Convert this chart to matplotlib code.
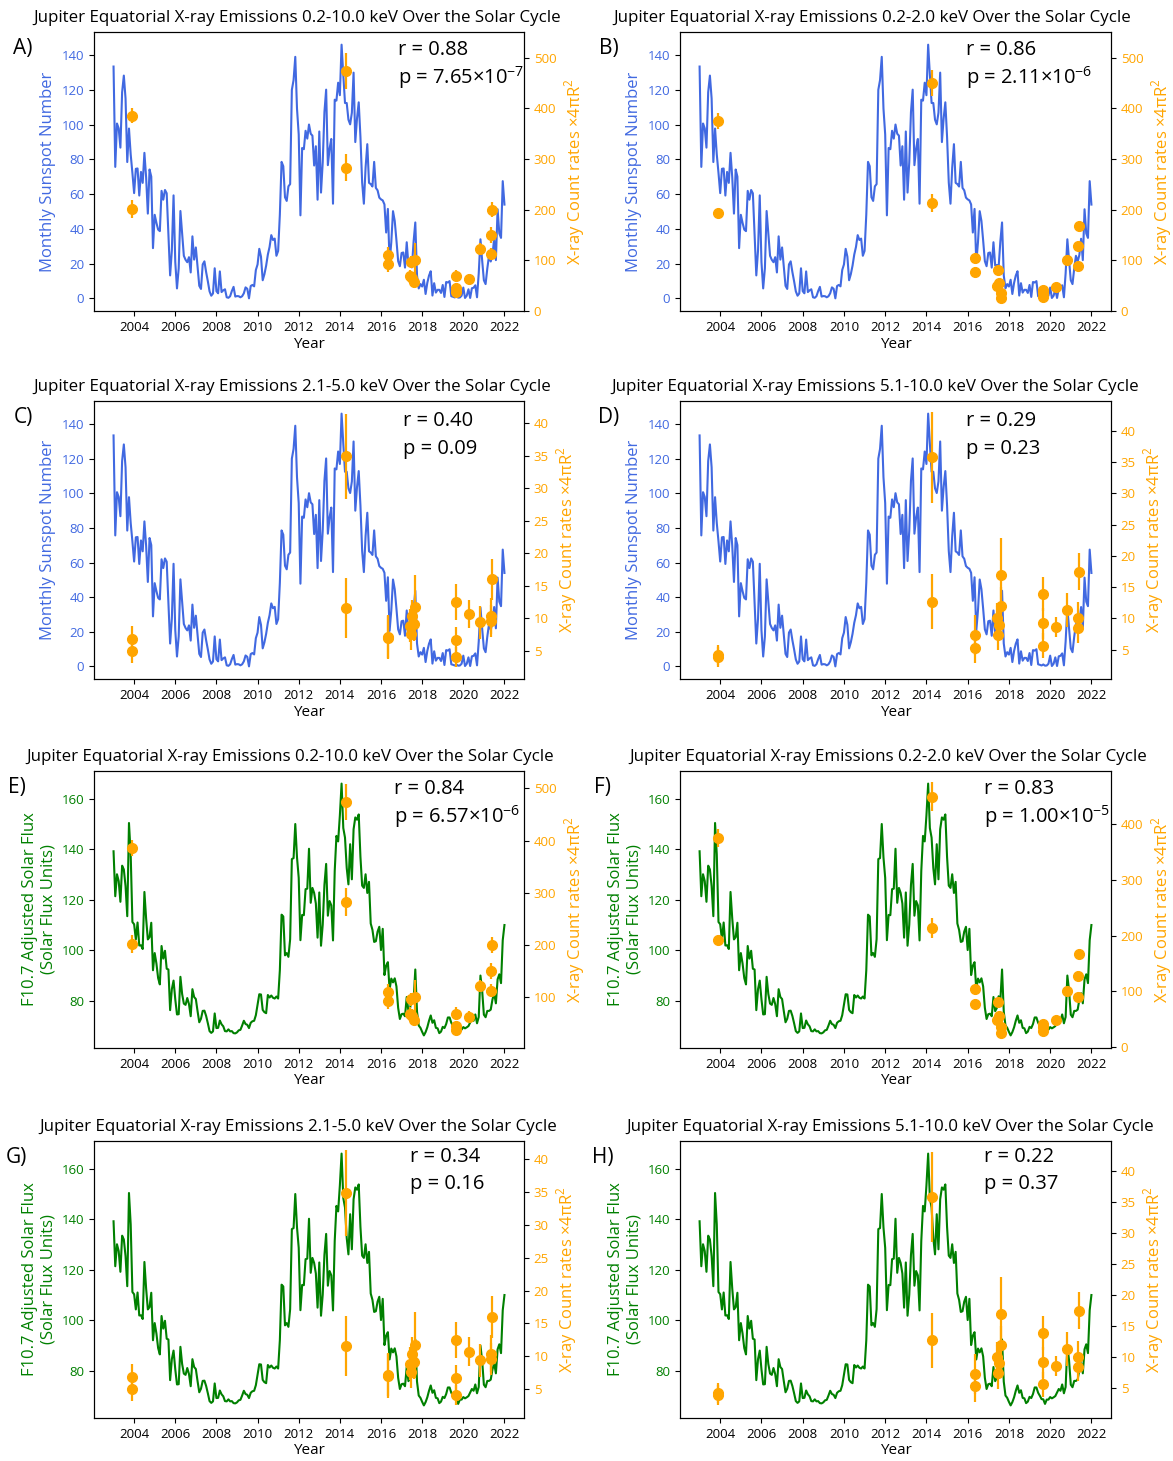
import numpy as np
import matplotlib
matplotlib.use('Agg')
import matplotlib.pyplot as plt

plt.rcParams['font.family'] = ['Open Sans', 'DejaVu Sans']
plt.rcParams['mathtext.fontset'] = 'custom'
plt.rcParams['mathtext.rm'] = 'Open Sans'

# monthly mean total sunspot number, Jan 2003 .. Jan 2022
ssn = [
    133.5, 75.7, 100.7, 97.9, 86.8, 118.7, 128.3, 115.1, 78.5, 97.8, 82.9, 72.2,
    60.6, 74.6, 74.8, 59.2, 72.8, 66.5, 83.8, 69.7, 48.8, 74.2, 70.1, 28.9,
    48.1, 43.5, 39.6, 38.7, 61.9, 56.8, 62.4, 60.5, 37.2, 13.2, 27.5, 59.3,
    20.9, 5.7, 17.3, 50.3, 37.2, 24.5, 22.2, 20.8, 23.7, 14.9, 35.7, 22.3,
    29.3, 18.4, 7.2, 5.4, 19.5, 21.3, 15.1, 9.8, 4.0, 1.5, 2.8, 17.3,
    4.1, 2.9, 15.5, 3.6, 4.6, 5.2, 0.6, 0.3, 1.2, 4.2, 6.6, 1.0,
    1.3, 1.2, 0.6, 1.2, 2.9, 6.3, 5.5, 0.0, 7.1, 7.7, 6.9, 16.3,
    19.5, 28.5, 24.0, 10.4, 13.9, 18.8, 25.2, 29.6, 36.4, 33.6, 34.4, 24.5,
    27.3, 48.3, 78.6, 76.1, 58.2, 56.1, 64.5, 65.8, 120.1, 125.7, 139.1, 109.3,
    94.4, 47.8, 86.6, 85.9, 96.5, 92.0, 100.1, 94.8, 93.7, 76.5, 87.6, 56.8,
    96.1, 60.9, 78.3, 107.3, 120.2, 76.7, 86.2, 91.8, 54.5, 114.4, 113.9, 124.2,
    117.0, 146.1, 128.7, 112.5, 112.5, 102.9, 100.2, 106.9, 130.0, 90.0, 103.6, 112.9,
    93.0, 66.7, 54.5, 75.3, 88.8, 66.5, 65.8, 64.4, 78.6, 63.6, 62.2, 58.0,
    57.0, 56.4, 54.1, 37.9, 51.5, 20.5, 32.4, 50.2, 44.6, 33.4, 21.4, 18.5,
    26.1, 26.4, 17.7, 32.3, 18.9, 19.2, 17.8, 32.6, 43.7, 13.2, 5.7, 8.2,
    6.8, 10.7, 2.5, 8.9, 13.1, 15.6, 1.6, 8.7, 3.3, 4.9, 4.9, 3.1,
    7.7, 0.8, 9.4, 9.1, 9.9, 1.2, 0.9, 0.5, 1.1, 0.4, 0.5, 1.5,
    6.2, 0.2, 1.5, 5.2, 0.2, 5.8, 6.1, 7.5, 0.6, 14.4, 34.0, 21.8,
    10.4, 8.2, 17.2, 24.5, 21.2, 25.0, 34.3, 22.0, 51.3, 37.4, 34.8, 67.5,
    54.0,
]

# F10.7 adjusted solar flux, monthly, same months
f107 = [
    139.2, 121.4, 130.1, 127.4, 119.2, 133.5, 132.0, 125.4, 113.5, 150.4, 138.0, 111.2,
    110.3, 104.3, 111.0, 101.9, 102.0, 100.5, 123.1, 112.6, 104.3, 105.2, 110.9, 92.1,
    98.9, 94.8, 89.0, 86.5, 101.7, 96.7, 99.8, 92.7, 92.4, 76.3, 84.6, 88.0,
    80.6, 74.6, 74.7, 89.5, 82.7, 78.9, 78.4, 81.1, 78.7, 73.9, 84.6, 81.5,
    80.7, 75.9, 71.5, 72.9, 76.0, 76.1, 74.0, 71.1, 68.0, 67.3, 67.9, 75.0,
    69.2, 69.3, 72.2, 70.7, 69.9, 68.0, 67.9, 68.7, 67.9, 68.0, 67.2, 67.1,
    67.5, 68.3, 68.5, 70.2, 72.1, 70.8, 70.5, 69.2, 71.3, 71.9, 72.1, 74.3,
    78.4, 82.6, 82.5, 76.4, 75.5, 75.1, 82.3, 81.3, 82.1, 81.2, 80.9, 81.7,
    80.9, 92.1, 114.1, 113.4, 98.0, 98.9, 97.4, 104.4, 136.1, 136.5, 150.0, 136.8,
    128.7, 104.0, 114.0, 113.9, 124.2, 124.4, 140.2, 118.8, 124.7, 122.7, 118.5, 105.0,
    122.9, 101.8, 110.1, 125.9, 134.2, 113.7, 119.5, 117.8, 103.9, 131.4, 145.3, 143.1,
    153.4, 166.0, 148.4, 144.6, 132.6, 126.1, 142.0, 128.1, 147.9, 152.6, 151.7, 153.8,
    137.0, 125.6, 124.7, 130.1, 122.7, 127.1, 110.6, 108.1, 103.3, 103.6, 107.4, 109.3,
    100.1, 108.5, 90.2, 93.9, 95.3, 84.5, 88.8, 87.3, 88.9, 85.7, 77.2, 72.8,
    74.7, 74.9, 73.9, 81.5, 75.9, 77.2, 81.8, 80.0, 92.4, 75.7, 70.2, 69.3,
    67.7, 66.3, 67.6, 69.5, 72.1, 74.2, 71.3, 72.3, 69.3, 69.1, 67.2, 67.8,
    69.7, 69.2, 70.8, 73.4, 73.4, 71.3, 70.1, 68.8, 68.7, 66.9, 68.6, 68.6,
    69.6, 69.1, 69.5, 70.0, 71.4, 72.8, 72.1, 74.6, 71.1, 73.6, 90.0, 84.0,
    74.5, 73.5, 76.0, 76.0, 76.5, 80.5, 83.0, 79.0, 88.5, 90.5, 87.0, 104.0,
    110.0,
]
months = 2003 + np.arange(len(ssn)) / 12.0

# X-ray observation epochs (decimal year)
obs_t = [2003.91, 2003.91, 2014.28, 2014.28, 2016.36, 2016.36,
         2017.41, 2017.46, 2017.5, 2017.6, 2017.64,
         2019.66, 2019.66, 2019.66, 2020.26, 2020.8,
         2021.33, 2021.36, 2021.39]

# count rates x 4piR^2 per band
x_02_10 = [386, 202, 474, 283, 111, 92, 69, 96, 65, 57, 101,
           69, 45, 37, 63, 122, 113, 150, 200]
e_02_10 = [15, 18, 35, 27, 15, 15, 12, 12, 12, 12, 33,
           12, 10, 10, 10, 12, 12, 15, 15]
x_02_20 = [375, 193, 450, 213, 104, 78, 49, 80, 55, 35, 25,
           41, 35, 28, 48, 101, 89, 128, 167]
e_02_20 = [16, 8, 26, 18, 8, 8, 6, 6, 6, 5, 5,
           5, 5, 5, 5, 6, 6, 8, 8]
x_21_50 = [6.9, 5.0, 34.9, 11.6, 7.2, 7.0, 8.9, 7.6, 10.4, 9.1, 11.7,
           12.5, 6.7, 4.1, 10.7, 9.4, 9.6, 10.4, 16.0]
e_21_50 = [2.0, 1.8, 6.5, 4.6, 3.3, 3.3, 2.5, 2.5, 2.5, 2.5, 5.0,
           2.8, 2.0, 1.5, 2.2, 2.5, 2.5, 2.8, 3.2]
x_51_10 = [4.2, 3.9, 35.8, 12.7, 7.3, 5.3, 10.0, 7.4, 9.0, 12.0, 16.9,
           13.9, 9.2, 5.6, 8.6, 11.3, 8.4, 10.1, 17.5]
e_51_10 = [1.6, 1.6, 7.3, 4.4, 3.2, 2.5, 2.5, 2.5, 2.5, 3.0, 6.0,
           2.7, 2.5, 2.0, 1.6, 2.7, 2.3, 2.5, 3.0]

bands = ['0.2-10.0', '0.2-2.0', '2.1-5.0', '5.1-10.0']
rates = [x_02_10, x_02_20, x_21_50, x_51_10]
errs = [e_02_10, e_02_20, e_21_50, e_51_10]
r_ssn = ['0.88', '0.86', '0.40', '0.29']
p_ssn = ['7.65×10$^{-7}$', '2.11×10$^{-6}$', '0.09', '0.23']
r_f107 = ['0.84', '0.83', '0.34', '0.22']
p_f107 = ['6.57×10$^{-6}$', '1.00×10$^{-5}$', '0.16', '0.37']
letters = ['A)', 'B)', 'C)', 'D)', 'E)', 'F)', 'G)', 'H)']

W, H = 1173, 1461
fig = plt.figure(figsize=(W / 100, H / 100), dpi=100)

cols = [(94, 524), (680, 1111)]
rows = [(32, 311), (401, 679), (771, 1048), (1141, 1418)]
rlims_ssn = [(0, 551), (0, 551), (0.7, 43.4), (0.3, 44.8)]
rlims_f = [(3, 533), (-2, 496), (0.6, 42.8), (0.2, 44.8)]
txt_x = [0.707, 0.664, 0.719, 0.664, 0.698, 0.705, 0.735, 0.705]
txt_y = [0.935, 0.935, 0.928, 0.928, 0.934, 0.934, 0.943, 0.943]
title_x = [0.472, 0.445, 0.462, 0.452, 0.455, 0.483, 0.474, 0.488]

for k in range(8):
    row, col = divmod(k, 2)
    band = k % 4
    (x0, x1), (y0, y1) = cols[col], rows[row]
    ax = fig.add_axes([x0 / W, 1 - y1 / H, (x1 - x0) / W, (y1 - y0) / H])
    if k < 4:
        ax.plot(months, ssn, color='royalblue', lw=1.5)
        ax.set_ylabel('Monthly Sunspot Number', color='royalblue', fontsize=12)
        ax.tick_params(axis='y', colors='royalblue')
        rl = rlims_ssn[band]
        rtxt, ptxt = r_ssn[band], p_ssn[band]
    else:
        ax.plot(months, f107, color='green', lw=1.5)
        ax.set_ylabel('F10.7 Adjusted Solar Flux\n(Solar Flux Units)', color='green',
                      fontsize=12, linespacing=1.15)
        ax.tick_params(axis='y', colors='green')
        rl = rlims_f[band]
        rtxt, ptxt = r_f107[band], p_f107[band]
    ax.tick_params(axis='y', which='both', color='black')
    ax.set_xticks(range(2004, 2023, 2))
    ax.set_xlabel('Year', fontsize=11, labelpad=2)
    ax.tick_params(labelsize=9.5)
    ax.set_title(f'Jupiter Equatorial X-ray Emissions {bands[band]} keV Over the Solar Cycle',
                 fontsize=12.2, pad=7, x=title_x[k])

    ax2 = ax.twinx()
    ax2.errorbar(obs_t, rates[band], yerr=errs[band], fmt='o', color='orange',
                 ms=7, elinewidth=1.6, capsize=0)
    ax2.set_ylim(*rl)
    ax2.set_ylabel('X-ray Count rates ×4πR$^2$', color='orange', fontsize=12)
    ax2.tick_params(axis='y', labelcolor='orange', labelsize=9.5)

    ax.text(txt_x[k], txt_y[k], f'r = {rtxt}', transform=ax.transAxes,
            fontsize=14.5, va='center')
    ax.text(txt_x[k], txt_y[k] - 0.1, f'p = {ptxt}', transform=ax.transAxes,
            fontsize=14.5, va='center')
    ax.text(-0.165 if k < 4 else -0.18, 0.94, letters[k], transform=ax.transAxes,
            fontsize=15, va='center', ha='center')

fig.savefig('out.png', dpi=100)
